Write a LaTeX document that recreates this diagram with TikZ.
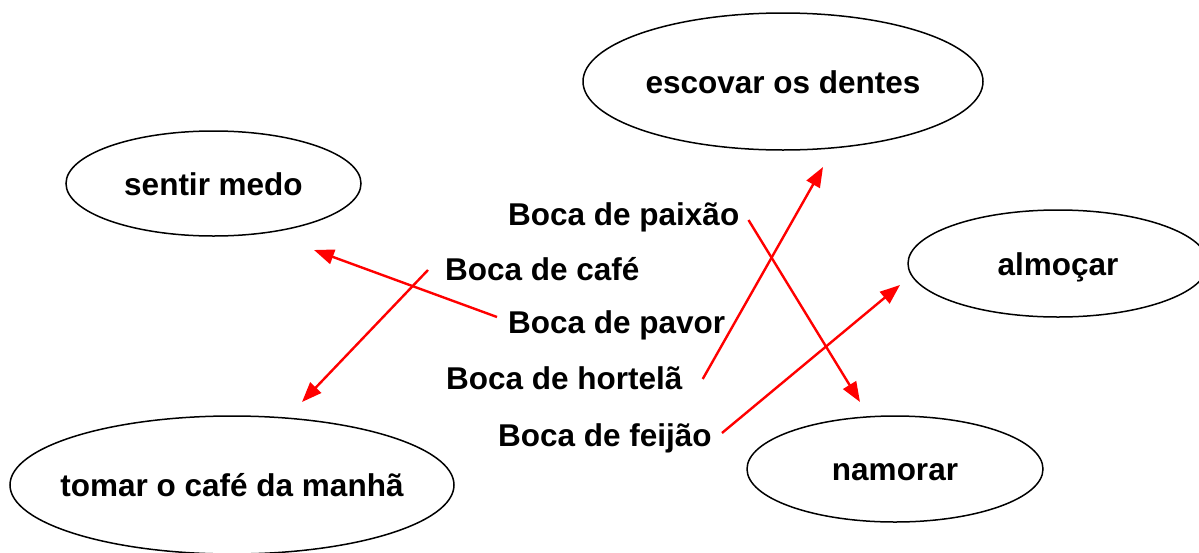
\documentclass[tikz,border=0pt]{standalone}
\usepackage{fontspec}
\setmainfont{Liberation Sans}
\usetikzlibrary{shapes.geometric,arrows.meta,calc}
\tikzset{
  oval/.style={draw,ellipse,line width=1.5pt,inner xsep=-50pt,inner ysep=0pt,text height=23pt,text depth=0pt},
  boca/.style={anchor=base west,inner sep=0pt},
  liga/.style={red,line width=2.4pt,-{Triangle[length=20pt,width=15pt]}}
}
\begin{document}
\begin{tikzpicture}[x=1pt,y=-1pt,font=\fontsize{31.5}{38}\selectfont\bfseries]
      \useasboundingbox (0,0) rectangle (1199,552);
      \draw
        (783,81.5) node[oval,minimum width=400pt,minimum height=137pt] (dentes){escovar os dentes}
        (213.5,183.5) node[oval,minimum width=295pt,minimum height=105pt] (medo){sentir medo}
        (1058,263.5) node[oval,minimum width=300pt,minimum height=107pt] (almocar){almoçar}
        (232,485) node[oval,minimum width=444pt,minimum height=138pt] (manha){tomar o café da manhã}
        (895,469) node[oval,minimum width=296pt,minimum height=106pt] (namorar){namorar};
      \draw
        (508,225) node[boca] (paixao){Boca de paixão}
        (445,280) node[boca] (cafe){Boca de café}
        (508,333) node[boca] (pavor){Boca de pavor}
        (446,389) node[boca] (hortela){Boca de hortelã}
        (498,446) node[boca] (feijao){Boca de feijão};
      \coordinate (t-medo) at (314,250);
      \coordinate (t-manha) at (302,402);
      \coordinate (t-dentes) at (823,167);
      \coordinate (t-namorar) at (860,402);
      \coordinate (t-almocar) at (900,285);
      \begin{scope}[liga]
        \draw ($(pavor.base west)+(-11,-16)$) to (t-medo);
        \draw ($(cafe.base west)+(-17,-10)$) to (t-manha);
        \draw ($(hortela.base east)+(20,-10)$) to (t-dentes);
        \draw ($(paixao.base east)+(9,-5)$) to (t-namorar);
        \draw ($(feijao.base east)+(10,-13)$) to (t-almocar);
      \end{scope}
    \end{tikzpicture}
\end{document}
